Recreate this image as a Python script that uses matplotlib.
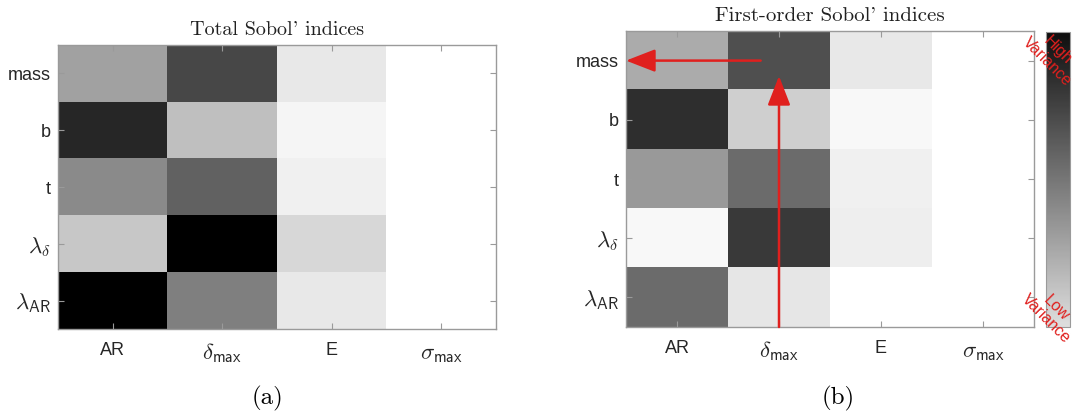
import numpy as np
import matplotlib
import matplotlib.pyplot as plt
from matplotlib.colors import LinearSegmentedColormap
from matplotlib.cm import ScalarMappable

plt.rcParams['mathtext.fontset'] = 'cm'
plt.rcParams['font.family'] = ['Liberation Sans', 'DejaVu Sans']

# 行/列标签
row_labels = ['mass', 'b', 't', r'$\lambda_\delta$', r'$\lambda_{\mathsf{AR}}$']
col_labels = ['AR', r'$\delta_{\mathsf{max}}$', 'E', r'$\sigma_{\mathsf{max}}$']

# 灰度值 (0 = 白, 1 = 黑), 从图上估计
total_idx = [
    [0.37, 0.72, 0.09, 0.0],
    [0.85, 0.25, 0.04, 0.0],
    [0.46, 0.62, 0.06, 0.0],
    [0.22, 1.00, 0.16, 0.0],
    [1.00, 0.50, 0.09, 0.0],
]
first_idx = [
    [0.33, 0.69, 0.09, 0.0],
    [0.82, 0.19, 0.03, 0.0],
    [0.40, 0.58, 0.06, 0.0],
    [0.03, 0.77, 0.07, 0.0],
    [0.58, 0.10, 0.0, 0.0],
]

W, H = 1083, 415
fig = plt.figure(figsize=(W / 100, H / 100), dpi=100)

def px_axes(x0, y0, x1, y1):
    return fig.add_axes([x0 / W, 1 - y1 / H, (x1 - x0) / W, (y1 - y0) / H])

ax1 = px_axes(58, 45, 496, 329)
ax2 = px_axes(626, 31, 1034, 327)
cax = px_axes(1046, 32, 1070, 327)

spine_color = '#9a9a9a'
text_color = '#262626'

for ax, vals, title, tsize in [(ax1, total_idx, "Total Sobol' indices", 14.5),
                               (ax2, first_idx, "First-order Sobol' indices", 15)]:
    ax.imshow(np.array(vals), cmap='gray_r', vmin=0, vmax=1, aspect='auto',
              interpolation='nearest')
    ax.set_xticks(range(len(col_labels)))
    ax.set_xticklabels(col_labels, color=text_color)
    ax.set_yticks(range(len(row_labels)))
    ax.set_yticklabels(row_labels, color=text_color)
    # 数学标签放大一些
    for lab in ax.get_xticklabels() + ax.get_yticklabels():
        lab.set_fontsize(16.5 if lab.get_text().startswith('$') else 13)
    ax.tick_params(axis='x', direction='in', length=4, top=True, color=spine_color, pad=9)
    ax.tick_params(axis='y', direction='in', length=4, right=True, color=spine_color, pad=5)
    for s in ax.spines.values():
        s.set_color(spine_color)
        s.set_linewidth(1.0)
    ax.set_title(title, fontfamily='cmr10', fontsize=tsize, color='#202020', pad=7)

# 红色箭头
red = '#e0201e'
arrow_kw = dict(arrowstyle='-|>,head_length=0.9,head_width=0.35', color=red, lw=1.8,
                mutation_scale=20, shrinkA=0, shrinkB=0)
ax2.annotate('', xy=(-0.5, 0), xytext=(0.82, 0), arrowprops=arrow_kw)
ax2.annotate('', xy=(1.0, 0.26), xytext=(1.0, 4.5), arrowprops=arrow_kw)

# 颜色条
cbar_cmap = LinearSegmentedColormap.from_list('cb', ['#dedede', '#0e0e0e'])
sm = ScalarMappable(cmap=cbar_cmap)
sm.set_array([])
cb = fig.colorbar(sm, cax=cax)
cb.set_ticks([])
cb.outline.set_edgecolor(spine_color)

def fig_text(x, y, s, **kw):
    fig.text(x / W, 1 - y / H, s, **kw)

red_kw = dict(color=red, fontsize=11.5, rotation=-45, ha='center', va='center',
              rotation_mode='anchor', multialignment='center', linespacing=1.0)
fig_text(1052, 56, 'High\nVariance', **red_kw)
fig_text(1051, 313, 'Low\nVariance', **red_kw)

fig_text(268, 398, '(a)', fontfamily='cmr10', fontsize=18, ha='center', va='center')
fig_text(838, 398, '(b)', fontfamily='cmr10', fontsize=18, ha='center', va='center')

fig.savefig('out.png', dpi=100)
